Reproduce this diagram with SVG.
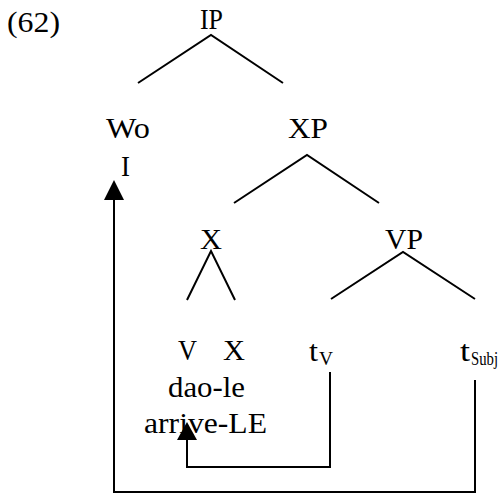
<svg xmlns="http://www.w3.org/2000/svg" width="504" height="493" viewBox="0 0 504 493">
<style>
text{font-family:'Liberation Serif','Times New Roman',Times,'DejaVu Serif',serif;font-size:29px;fill:#000}
.sub{font-size:19px}
.edge{stroke:#000;stroke-width:2;fill:none}
</style>
<g id="label"><text x="7" y="32" textLength="53" lengthAdjust="spacingAndGlyphs">(62)</text></g>
<g id="IP"><text x="200" y="29" textLength="23" lengthAdjust="spacingAndGlyphs">IP</text></g>
<g id="Wo"><text x="106" y="138" textLength="44" lengthAdjust="spacingAndGlyphs">Wo</text><text x="121" y="176" textLength="9" lengthAdjust="spacingAndGlyphs">I</text></g>
<g id="XP"><text x="288" y="138" textLength="40" lengthAdjust="spacingAndGlyphs">XP</text></g>
<g id="X"><text x="200" y="249" textLength="22" lengthAdjust="spacingAndGlyphs">X</text></g>
<g id="VP"><text x="385" y="249" textLength="38" lengthAdjust="spacingAndGlyphs">VP</text></g>
<g id="V-X"><text x="178" y="360" textLength="19" lengthAdjust="spacingAndGlyphs">V</text><text x="223" y="360" textLength="22" lengthAdjust="spacingAndGlyphs">X</text><text x="168" y="397" textLength="77" lengthAdjust="spacingAndGlyphs">dao-le</text><text x="144" y="433" textLength="123" lengthAdjust="spacingAndGlyphs">arrive-LE</text></g>
<g id="tV"><text x="309" y="361" textLength="9" lengthAdjust="spacingAndGlyphs">t</text><text class="sub" x="319" y="365" textLength="14" lengthAdjust="spacingAndGlyphs">V</text></g>
<g id="tSubj"><text x="460" y="361" textLength="10" lengthAdjust="spacingAndGlyphs">t</text><text class="sub" x="471" y="365" textLength="27" lengthAdjust="spacingAndGlyphs">Subj</text></g>
<g id="connectors">
<polyline class="edge" points="138,83 211,35 283,83"/>
<polyline class="edge" points="234,203 307,155 379,203"/>
<polyline class="edge" points="187,300 211,251 235,300"/>
<polyline class="edge" points="331,299 403,252 475,299"/>
<polyline class="edge" points="330,372 330,467 187,467 187,440"/>
<polygon points="187,422 177,440 197,440" fill="#000"/>
<polyline class="edge" points="475,380 475,492 114,492 114,200"/>
<polygon points="114,180 104,200 124,200" fill="#000"/>
</g>
</svg>
